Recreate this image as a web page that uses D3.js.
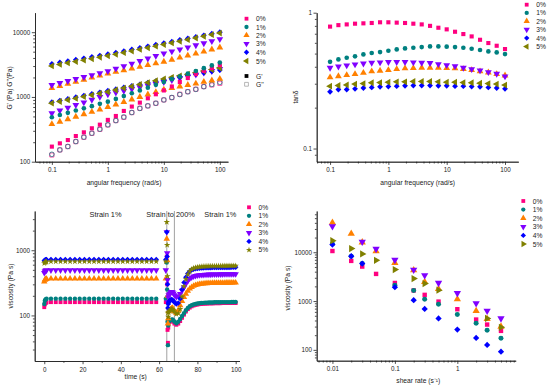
<!DOCTYPE html>
<html>
<head>
<meta charset="utf-8">
<script src="https://cdn.jsdelivr.net/npm/d3@7"></script>
<style>
body { margin: 0; background: #fff; }
svg { font-family: "Liberation Sans", Arial, sans-serif; }
.axis path, .axis line { stroke: #222; stroke-width: 0.8; }
.axis text { fill: #222; font-size: 6.3px; font-family: "Liberation Sans", Arial, sans-serif; }
.lbl { fill: #222; font-size: 6.7px; }
</style>
</head>
<body>
<svg id="chart" width="550" height="389"></svg>
<script>
const samples = ["0%", "1%", "2%", "3%", "4%", "5%"];
const colors = ["#ff0080", "#008080", "#ff8000", "#8000ff", "#0000ff", "#808000"];

// (a) G' and G'' against angular frequency
const freq = [0.1, 0.139, 0.193, 0.268, 0.373, 0.518, 0.72, 1, 1.39, 1.93, 2.68, 3.73, 5.18, 7.2, 10, 13.9, 19.3, 26.8, 37.3, 51.8, 72, 100];
const gPrime = [
  [171, 192, 216, 249, 284, 328, 373, 442, 508, 608, 710, 817, 953, 1100, 1260, 1450, 1700, 1960, 2250, 2530, 2800, 3100],
  [486, 526, 569, 617, 667, 721, 782, 845, 933, 1030, 1140, 1260, 1390, 1540, 1700, 1880, 2070, 2290, 2520, 2780, 3070, 3390],
  [1370, 1480, 1590, 1710, 1840, 1990, 2140, 2300, 2440, 2590, 2750, 2920, 3100, 3300, 3500, 3760, 4050, 4350, 4670, 5010, 5400, 5800],
  [1530, 1640, 1760, 1890, 2030, 2170, 2330, 2500, 2740, 2990, 3270, 3590, 3930, 4300, 4700, 5050, 5430, 5830, 6280, 6750, 7260, 7800],
  [3240, 3400, 3570, 3760, 3950, 4140, 4350, 4570, 4830, 5100, 5400, 5710, 6040, 6400, 6760, 7150, 7570, 8000, 8450, 8930, 9460, 10000],
  [3010, 3180, 3350, 3520, 3700, 3890, 4100, 4310, 4560, 4820, 5110, 5420, 5740, 6090, 6450, 6830, 7240, 7670, 8130, 8620, 9140, 9700]
];
const gDouble = [
  [127, 152, 171, 204, 238, 274, 316, 369, 431, 485, 573, 668, 726, 798, 899, 977, 1099, 1208, 1315, 1445, 1532, 1626],
  [130, 152, 172, 205, 240, 276, 318, 372, 432, 490, 575, 665, 730, 800, 900, 980, 1090, 1200, 1310, 1440, 1560, 1680],
  [380, 415, 453, 494, 540, 588, 641, 700, 764, 836, 912, 998, 1090, 1190, 1300, 1370, 1450, 1530, 1610, 1710, 1800, 1900],
  [560, 617, 680, 750, 825, 905, 1000, 1100, 1170, 1245, 1325, 1410, 1500, 1600, 1700, 1815, 1940, 2070, 2210, 2370, 2520, 2700],
  [830, 880, 930, 990, 1050, 1110, 1180, 1250, 1320, 1400, 1480, 1560, 1660, 1750, 1850, 1940, 2040, 2140, 2250, 2360, 2480, 2600],
  [800, 850, 900, 950, 1010, 1070, 1130, 1200, 1280, 1370, 1460, 1560, 1670, 1780, 1900, 2010, 2120, 2240, 2370, 2510, 2650, 2800]
];

// (b) tan delta against angular frequency
const tanDelta = [
  [0.79, 0.81, 0.82, 0.83, 0.835, 0.84, 0.85, 0.85, 0.845, 0.84, 0.83, 0.82, 0.80, 0.775, 0.754, 0.724, 0.696, 0.669, 0.632, 0.598, 0.571, 0.54],
  [0.435, 0.453, 0.466, 0.477, 0.493, 0.505, 0.513, 0.525, 0.537, 0.546, 0.552, 0.558, 0.565, 0.565, 0.562, 0.558, 0.552, 0.543, 0.531, 0.519, 0.510, 0.496],
  [0.334, 0.341, 0.347, 0.353, 0.361, 0.370, 0.374, 0.378, 0.384, 0.389, 0.391, 0.393, 0.393, 0.393, 0.391, 0.389, 0.384, 0.378, 0.370, 0.363, 0.353, 0.345],
  [0.393, 0.402, 0.409, 0.416, 0.423, 0.428, 0.431, 0.433, 0.433, 0.433, 0.431, 0.428, 0.426, 0.418, 0.411, 0.404, 0.393, 0.384, 0.376, 0.365, 0.355, 0.340],
  [0.262, 0.272, 0.272, 0.275, 0.279, 0.282, 0.285, 0.286, 0.288, 0.290, 0.291, 0.291, 0.291, 0.290, 0.290, 0.288, 0.288, 0.286, 0.285, 0.282, 0.279, 0.275],
  [0.288, 0.291, 0.294, 0.298, 0.301, 0.305, 0.306, 0.308, 0.310, 0.310, 0.312, 0.312, 0.312, 0.310, 0.308, 0.308, 0.306, 0.305, 0.303, 0.301, 0.298, 0.293]
];

// (c) three-step viscosity against time
const timeS = [0, 0.3, 0.6, 0.9, 1.2, 3.5, 6, 8.5, 11, 13.5, 16, 18.5, 21, 23.5, 26, 28.5, 31, 33.5, 36, 38.5, 41, 43.5, 46, 48.5, 51, 53.5, 56, 58.5, 63.5,
  64, 64.2, 64.4, 64.6, 64.8,
  65, 65.5, 66, 66.5, 67, 67.5,
  68, 69, 70, 71, 72, 73, 74, 75, 76, 77, 78, 79, 80, 81, 82, 83, 84, 85, 86, 87, 88, 89, 90, 91, 92, 93, 94, 95, 96, 97, 98, 99, 100];
const viscTime = [
  [134, 148, 155, 158, 159, 160, 160, 160, 160, 160, 160, 160, 160, 160, 160, 160, 160, 160, 160, 160, 160, 160, 160, 160, 160, 160, 160, 160, 160,
   800, 300, 60, 38, 65,
   78, 80, 82, 83, 84, 80,
   75, 72, 75, 82, 92, 103, 115, 125, 132, 138, 142, 145, 147, 149, 150, 151, 152, 152, 153, 153, 153, 154, 154, 154, 154, 155, 155, 155, 155, 155, 155, 155, 155],
  [150, 168, 175, 178, 180, 181, 181, 181, 181, 181, 181, 181, 181, 181, 181, 181, 181, 181, 181, 181, 181, 181, 181, 181, 181, 181, 181, 181, 181,
   650, 250, 80, 35, 70,
   80, 83, 85, 86, 87, 84,
   80, 76, 80, 88, 98, 108, 120, 130, 138, 143, 147, 150, 152, 154, 155, 156, 157, 157, 158, 158, 158, 159, 159, 159, 159, 160, 160, 160, 160, 160, 161, 161, 161],
  [330, 350, 358, 362, 364, 366, 366, 366, 366, 366, 366, 366, 366, 366, 366, 366, 366, 366, 366, 366, 366, 366, 366, 366, 366, 366, 366, 366, 366,
   1500, 700, 200, 75, 90,
   115, 120, 125, 128, 130, 122,
   115, 108, 120, 142, 165, 190, 215, 238, 258, 272, 283, 291, 297, 301, 304, 307, 309, 311, 312, 313, 314, 314, 315, 315, 316, 316, 316, 317, 317, 317, 318, 318, 318],
  [450, 475, 485, 490, 492, 494, 494, 494, 494, 494, 494, 494, 494, 494, 494, 494, 494, 494, 494, 494, 494, 494, 494, 494, 494, 494, 494, 494, 494,
   1900, 900, 350, 160, 190,
   205, 215, 225, 230, 228, 218,
   205, 192, 198, 215, 240, 270, 305, 340, 368, 385, 397, 406, 412, 416, 419, 421, 423, 424, 425, 426, 427, 427, 428, 428, 429, 429, 430, 430, 430, 431, 431, 432, 432],
  [690, 705, 712, 716, 718, 720, 720, 720, 720, 720, 720, 720, 720, 720, 720, 720, 720, 720, 720, 720, 720, 720, 720, 720, 720, 720, 720, 720, 720,
   1900, 800, 300, 130, 150,
   160, 168, 172, 175, 173, 165,
   160, 150, 155, 180, 250, 320, 385, 440, 478, 500, 513, 522, 527, 531, 534, 536, 538, 539, 540, 541, 542, 542, 543, 543, 544, 544, 545, 545, 546, 546, 547, 547, 548],
  [630, 650, 660, 665, 668, 670, 670, 670, 670, 670, 670, 670, 670, 670, 670, 670, 670, 670, 670, 670, 670, 670, 670, 670, 670, 670, 670, 670, 670,
   2700, 1200, 400, 110, 95,
   112, 118, 122, 125, 124, 120,
   115, 105, 108, 125, 195, 280, 360, 425, 475, 510, 530, 542, 550, 556, 560, 564, 567, 569, 571, 572, 573, 573, 574, 574, 575, 575, 576, 576, 577, 577, 577, 578, 578]
];
const strainMarks = [64, 68];
const strainTexts = [["Strain 1%", 32], ["Strain to 200%", 66], ["Strain 1%", 92]];

// (d) viscosity against shear rate
const shearRate = [0.01, 0.02, 0.03, 0.05, 0.1, 0.2, 0.3, 0.5, 1, 2, 3, 5];
const viscShear = [
  [10600, 6650, 5090, 3600, 2350, 1650, 1340, 975, 680, 418, 330, 245],
  [14800, 8300, 5850, null, 2100, 1640, 1090, 860, 530, 350, 253, 173],
  [40400, 24100, 16000, 10500, 6050, 4300, 2470, 1770, 1090, 630, 430, 300],
  [34000, null, 16300, 11700, 6960, 4350, 3380, 2350, 1450, 900, 630, 440],
  [14400, 8290, 5870, null, 1920, 1040, 690, 440, 260, 176, 126, 92],
  [17300, 11900, 9250, 6850, 4420, 2890, 2280, 1670, null, null, 440, 290]
];

const svg = d3.select("#chart");

const symbols = { square: d3.symbolSquare, circle: d3.symbolCircle, tri: d3.symbolTriangle, star: d3.symbolStar };
// 4% marker is a square turned 45 degrees
const shapesAB = [["square", 0], ["circle", 0], ["tri", 0], ["tri", 180], ["square", 45], ["tri", -90]];
const shapesC = [["square", 0], ["circle", 0], ["tri", 0], ["tri", 180], ["square", 45], ["star", 0]];
const shapesD = [["square", 0], ["circle", 0], ["tri", 0], ["tri", 180], ["square", 45], ["tri", 90]];
const symSize = { square: 17, circle: 17, tri: 20, star: 14 };

function marker(g, shape, cx, cy, color, scale, hollow) {
  g.append("path")
    .attr("d", d3.symbol(symbols[shape[0]], symSize[shape[0]] * scale)())
    .attr("transform", `translate(${cx},${cy}) rotate(${shape[1]})`)
    .attr("fill", hollow ? "none" : color)
    .attr("stroke", hollow ? color : "none")
    .attr("stroke-width", 0.7);
}

function logMinor(domain) {
  const out = [];
  const lo = Math.floor(Math.log10(domain[0])), hi = Math.ceil(Math.log10(domain[1]));
  for (let e = lo; e <= hi; e++) {
    for (let m = 2; m < 10; m++) {
      const v = m * Math.pow(10, e);
      if (v > domain[0] && v < domain[1]) out.push(v);
    }
  }
  return out;
}

function drawAxes(x, y, xt, yt) {
  const y0 = y.range()[0], x0 = x.range()[0];
  svg.append("g").attr("class", "axis").attr("transform", `translate(0,${y0})`)
    .call(d3.axisBottom(x).tickValues(xt.minor).tickSize(1.8).tickFormat("").tickSizeOuter(0));
  svg.append("g").attr("class", "axis").attr("transform", `translate(0,${y0})`)
    .call(d3.axisBottom(x).tickValues(xt.major).tickSize(3.2).tickPadding(3).tickFormat(xt.fmt).tickSizeOuter(0));
  svg.append("g").attr("class", "axis").attr("transform", `translate(${x0},0)`)
    .call(d3.axisLeft(y).tickValues(yt.minor).tickSize(1.8).tickFormat("").tickSizeOuter(0));
  svg.append("g").attr("class", "axis").attr("transform", `translate(${x0},0)`)
    .call(d3.axisLeft(y).tickValues(yt.major).tickSize(3.2).tickPadding(1.5).tickFormat(yt.fmt).tickSizeOuter(0));
}

function titles(xText, xx, xy, yText, yx, yy) {
  svg.append("text").attr("class", "lbl").attr("x", xx).attr("y", xy)
    .attr("text-anchor", "middle").attr("dominant-baseline", "central").text(xText);
  svg.append("text").attr("class", "lbl")
    .attr("transform", `translate(${yx},${yy}) rotate(-90)`)
    .attr("text-anchor", "middle").attr("dominant-baseline", "central").text(yText);
}

function legend(lx, rows, shapes) {
  samples.forEach((s, i) => {
    marker(svg, shapes[i], lx, rows[i], colors[i], 0.85, false);
    svg.append("text").attr("class", "lbl").attr("x", lx + 9.5).attr("y", rows[i])
      .attr("dominant-baseline", "central").text(s);
  });
}

const fmtPlain = d => String(d);

// ---------- panel (a)
{
  const x = d3.scaleLog().domain([0.05, 140]).range([35, 228]);
  const y = d3.scaleLog().domain([100, 20000]).range([161.7, 12.7]);
  drawAxes(x, y,
    { major: [0.1, 1, 10, 100], minor: logMinor(x.domain()), fmt: fmtPlain },
    { major: [100, 1000, 10000], minor: logMinor(y.domain()), fmt: fmtPlain });
  const g = svg.append("g");
  samples.forEach((s, i) => {
    freq.forEach((f, j) => marker(g, shapesAB[i], x(f), y(gDouble[i][j]), colors[i], 1, i < 2));
  });
  samples.forEach((s, i) => {
    freq.forEach((f, j) => marker(g, shapesAB[i], x(f), y(gPrime[i][j]), colors[i], 1, false));
  });
  titles("angular frequency (rad/s)", 124, 182, "G' (Pa)   G''(Pa)", 9, 88);
  legend(246.5, [18.7, 27, 35.3, 43.7, 52.3, 61], shapesAB);
  marker(svg, ["square", 0], 246.5, 76, "#000", 0.85, false);
  marker(svg, ["square", 0], 246.5, 84.3, "#999", 0.85, true);
  svg.append("text").attr("class", "lbl").attr("x", 256).attr("y", 76).attr("dominant-baseline", "central").text("G'");
  svg.append("text").attr("class", "lbl").attr("x", 256).attr("y", 84.3).attr("dominant-baseline", "central").text("G''");
}

// ---------- panel (b)
{
  const x = d3.scaleLog().domain([0.059, 169]).range([316.7, 518.3]);
  const y = d3.scaleLog().domain([0.08, 1]).range([161.7, 12.7]);
  drawAxes(x, y,
    { major: [0.1, 1, 10, 100], minor: logMinor(x.domain()), fmt: fmtPlain },
    { major: [0.1, 1], minor: logMinor(y.domain()), fmt: fmtPlain });
  const g = svg.append("g");
  samples.forEach((s, i) => {
    freq.forEach((f, j) => marker(g, shapesAB[i], x(f), y(tanDelta[i][j]), colors[i], 1, false));
  });
  titles("angular frequency (rad/s)", 417.7, 182, "tan\u03b4", 295.7, 97);
  legend(526.7, [4.7, 12.9, 21.2, 29.6, 38.1, 46.6], shapesAB);
}

// ---------- panel (c)
{
  const x = d3.scaleLinear().domain([-5, 102]).range([34.7, 239.5]);
  const y = d3.scaleLog().domain([20, 4000]).range([361, 211]);
  drawAxes(x, y,
    { major: [0, 20, 40, 60, 80, 100], minor: [10, 30, 50, 70, 90], fmt: fmtPlain },
    { major: [100, 1000], minor: logMinor(y.domain()), fmt: fmtPlain });
  strainMarks.forEach(t => {
    svg.append("line").attr("x1", x(t)).attr("x2", x(t)).attr("y1", 211).attr("y2", 361)
      .attr("stroke", "#aaa").attr("stroke-width", 1.1);
  });
  strainTexts.forEach(([t, at]) => {
    svg.append("text").attr("x", x(at)).attr("y", 214.5).attr("text-anchor", "middle")
      .attr("dominant-baseline", "central").attr("font-size", "7.4px").attr("fill", "#222").text(t);
  });
  const g = svg.append("g");
  samples.forEach((s, i) => {
    timeS.forEach((t, j) => marker(g, shapesC[i], x(t), y(viscTime[i][j]), colors[i], 0.9, false));
  });
  titles("time (s)", 135.7, 376, "viscosity (Pa s)", 10.7, 286);
  legend(249, [207.3, 215.8, 224.3, 232.8, 241.4, 249.9], shapesC);
}

// ---------- panel (d)
{
  const x = d3.scaleLog().domain([0.0056, 8.6]).range([316.7, 515.7]);
  const y = d3.scaleLog().domain([60, 70000]).range([360.7, 211]);
  drawAxes(x, y,
    { major: [0.01, 0.1, 1], minor: logMinor(x.domain()), fmt: fmtPlain },
    { major: [100, 1000, 10000], minor: logMinor(y.domain()), fmt: fmtPlain });
  const g = svg.append("g");
  samples.forEach((s, i) => {
    shearRate.forEach((r, j) => {
      const v = viscShear[i][j];
      if (v != null) marker(g, shapesD[i], x(r), y(v), colors[i], 1.15, false);
    });
  });
  titles("shear rate (s\u207b\u00b9)", 418.3, 380, "viscosity (Pa s)", 287.3, 288);
  legend(523.3, [201, 209.6, 218.2, 226.8, 235.4, 244], shapesD);
}
</script>
</body>
</html>
